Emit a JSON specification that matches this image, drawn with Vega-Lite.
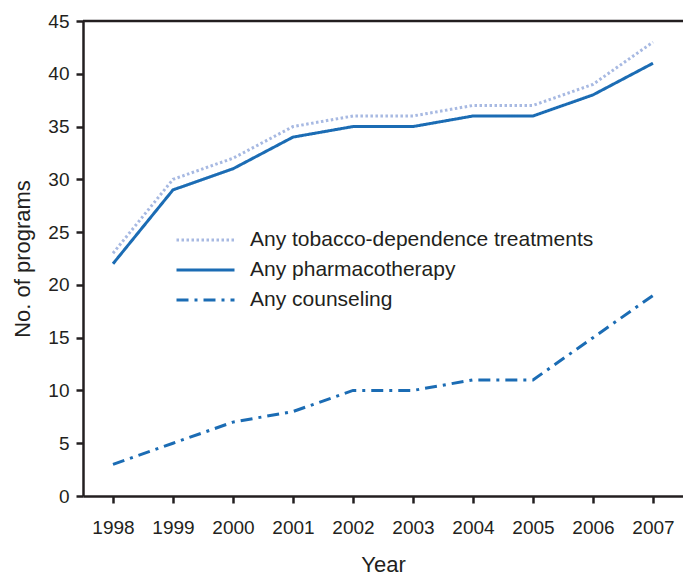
{
  "$schema": "https://vega.github.io/schema/vega-lite/v6.json",
  "width": 600,
  "height": 475,
  "autosize": {"type": "none"},
  "padding": {"left": 83, "top": 21, "right": 0, "bottom": 79},
  "config": {
    "view": {"stroke": null},
    "font": "Liberation Sans",
    "axis": {
      "grid": false,
      "domainColor": "#231f20",
      "domainWidth": 2.5,
      "tickColor": "#231f20",
      "tickWidth": 2.5,
      "tickSize": 7,
      "labelFont": "Liberation Sans",
      "labelFontSize": 19,
      "labelColor": "#231f20",
      "titleFont": "Liberation Sans",
      "titleFontSize": 22,
      "titleFontWeight": "normal",
      "titleColor": "#231f20"
    },
    "legend": {
      "orient": "none",
      "legendX": 92,
      "legendY": 204,
      "symbolType": "stroke",
      "symbolSize": 3364,
      "symbolStrokeWidth": 3,
      "labelFont": "Liberation Sans",
      "labelFontSize": 21,
      "labelColor": "#231f20",
      "labelOffset": 14,
      "rowPadding": 0,
      "clipHeight": 30,
      "labelLimit": 500
    }
  },
  "data": {
    "values": [
      {"year": 1998, "series": "Any tobacco-dependence treatments", "value": 23},
      {"year": 1999, "series": "Any tobacco-dependence treatments", "value": 30},
      {"year": 2000, "series": "Any tobacco-dependence treatments", "value": 32},
      {"year": 2001, "series": "Any tobacco-dependence treatments", "value": 35},
      {"year": 2002, "series": "Any tobacco-dependence treatments", "value": 36},
      {"year": 2003, "series": "Any tobacco-dependence treatments", "value": 36},
      {"year": 2004, "series": "Any tobacco-dependence treatments", "value": 37},
      {"year": 2005, "series": "Any tobacco-dependence treatments", "value": 37},
      {"year": 2006, "series": "Any tobacco-dependence treatments", "value": 39},
      {"year": 2007, "series": "Any tobacco-dependence treatments", "value": 43},
      {"year": 1998, "series": "Any pharmacotherapy", "value": 22},
      {"year": 1999, "series": "Any pharmacotherapy", "value": 29},
      {"year": 2000, "series": "Any pharmacotherapy", "value": 31},
      {"year": 2001, "series": "Any pharmacotherapy", "value": 34},
      {"year": 2002, "series": "Any pharmacotherapy", "value": 35},
      {"year": 2003, "series": "Any pharmacotherapy", "value": 35},
      {"year": 2004, "series": "Any pharmacotherapy", "value": 36},
      {"year": 2005, "series": "Any pharmacotherapy", "value": 36},
      {"year": 2006, "series": "Any pharmacotherapy", "value": 38},
      {"year": 2007, "series": "Any pharmacotherapy", "value": 41},
      {"year": 1998, "series": "Any counseling", "value": 3},
      {"year": 1999, "series": "Any counseling", "value": 5},
      {"year": 2000, "series": "Any counseling", "value": 7},
      {"year": 2001, "series": "Any counseling", "value": 8},
      {"year": 2002, "series": "Any counseling", "value": 10},
      {"year": 2003, "series": "Any counseling", "value": 10},
      {"year": 2004, "series": "Any counseling", "value": 11},
      {"year": 2005, "series": "Any counseling", "value": 11},
      {"year": 2006, "series": "Any counseling", "value": 15},
      {"year": 2007, "series": "Any counseling", "value": 19}
    ]
  },
  "layer": [
    {
      "data": {"values": [{}]},
      "mark": {"type": "rule", "color": "#231f20", "strokeWidth": 2.5},
      "encoding": {"y": {"datum": 45, "type": "quantitative"}}
    },
    {
      "mark": {"type": "line", "strokeWidth": 3},
      "encoding": {
        "x": {
          "field": "year",
          "type": "quantitative",
          "scale": {"domain": [1997.5, 2007.5], "nice": false, "zero": false},
          "axis": {
            "values": [1998, 1999, 2000, 2001, 2002, 2003, 2004, 2005, 2006, 2007],
            "format": "d",
            "labelPadding": 15,
            "titlePadding": 17,
            "title": "Year"
          }
        },
        "y": {
          "field": "value",
          "type": "quantitative",
          "scale": {"domain": [0, 45], "nice": false},
          "axis": {
            "values": [0, 5, 10, 15, 20, 25, 30, 35, 40, 45],
            "labelPadding": 7,
            "titlePadding": 13,
            "title": "No. of programs"
          }
        },
        "color": {
          "field": "series",
          "type": "nominal",
          "scale": {
            "domain": ["Any tobacco-dependence treatments", "Any pharmacotherapy", "Any counseling"],
            "range": ["#a7b9e2", "#1b6cb4", "#1b6cb4"]
          },
          "legend": {"title": null}
        },
        "strokeDash": {
          "field": "series",
          "type": "nominal",
          "scale": {
            "domain": ["Any tobacco-dependence treatments", "Any pharmacotherapy", "Any counseling"],
            "range": [[2.5, 2.5], [1, 0], [12, 6, 3, 6]]
          },
          "legend": {"title": null}
        }
      }
    }
  ]
}
